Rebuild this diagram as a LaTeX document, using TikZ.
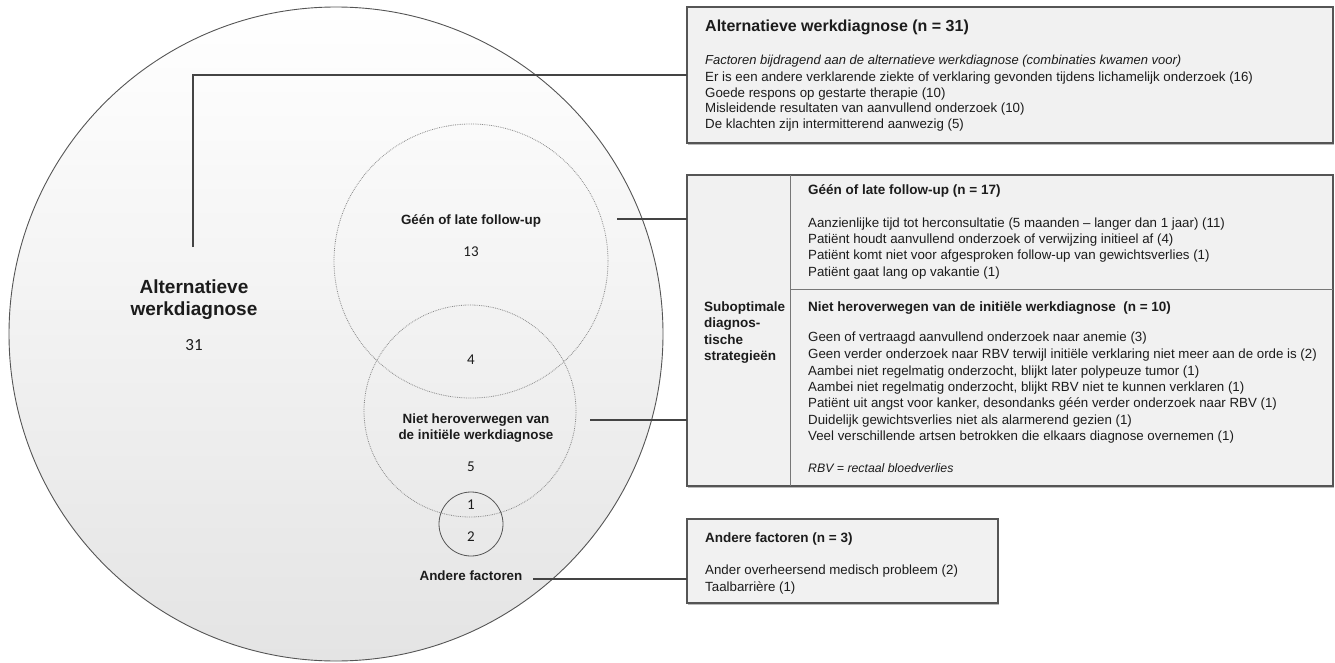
\documentclass[tikz,border=0pt]{standalone}
\usepackage{fontspec}
\setmainfont{Liberation Sans}
\newfontfamily\numfont{Carlito}
\usetikzlibrary{shadows}
\definecolor{txt}{HTML}{1C1C1C}
\definecolor{boxfill}{HTML}{F1F1F1}
\definecolor{boxline}{HTML}{555555}
\definecolor{conn}{HTML}{444444}
\definecolor{venn}{HTML}{8A8A8A}
\definecolor{circbot}{HTML}{E4E4E4}
\tikzset{
  bigcirc/.style={circle, draw=boxline, line width=0.9pt, top color=white, bottom color=circbot, inner sep=0pt, outer sep=0pt},
  venncirc/.style={circle, draw=venn, densely dotted, line width=0.8pt, inner sep=0pt, outer sep=0pt},
  smallcirc/.style={circle, draw=boxline, line width=0.8pt, inner sep=0pt, outer sep=0pt},
  infobox/.style={rectangle, draw=boxline, line width=1.4pt, fill=boxfill, anchor=north west, inner sep=0pt, outer sep=0pt,
    drop shadow={shadow xshift=1.2pt, shadow yshift=-1.6pt, fill=black!45, opacity=0.6}},
  divline/.style={draw=boxline!80, line width=0.8pt},
  connline/.style={draw=conn, line width=1.2pt},
  bodytxt/.style={anchor=base west, inner sep=0pt, text=txt, font=\fontsize{13.3}{16}\selectfont},
  headtxt/.style={anchor=base west, inner sep=0pt, text=txt, font=\fontsize{13.5}{16}\selectfont\bfseries},
  ctrlab/.style={anchor=base, inner sep=0pt, text=txt, font=\fontsize{13.4}{16}\selectfont\bfseries},
  numlab/.style={anchor=base, inner sep=0pt, text=txt, font=\fontsize{15}{16}\selectfont\numfont},
}
\begin{document}
\begin{tikzpicture}[x=1pt,y=-1pt]
\useasboundingbox (0,0) rectangle (1335,663);

% big circle and Venn circles
\node[bigcirc, minimum size=654pt] (big) at (336,334) {};
\node[venncirc, minimum size=274pt] (vA) at (471,261) {};
\node[venncirc, minimum size=212pt] (vB) at (470,411) {};
\node[smallcirc, minimum size=64pt] (vC) at (471,524) {};

% circle labels
\node[anchor=base, inner sep=0pt, text=txt, font=\fontsize{19}{22}\selectfont\bfseries] (altA) at (194,293) {Alternatieve};
\node[anchor=base, inner sep=0pt, text=txt, font=\fontsize{19}{22}\selectfont\bfseries] (altB) at (194,315) {werkdiagnose};
\node[anchor=base, inner sep=0pt, text=txt, font=\fontsize{17}{20}\selectfont\numfont] (n31) at (194,350) {31};
\node[ctrlab] (labA) at (471,224) {Géén of late follow-up};
\node[numlab] (n13) at (471,256) {13};
\node[numlab] (n4) at (471,364) {4};
\node[ctrlab] (labB1) at (476,423) {Niet heroverwegen van};
\node[ctrlab] (labB2) at (476,439) {de initiële werkdiagnose};
\node[numlab] (n5) at (471,471) {5};
\node[numlab] (n1) at (471,509) {1};
\node[numlab] (n2) at (471,541) {2};
\node[ctrlab] (labC) at (471,580) {Andere factoren};

% boxes
\node[infobox, minimum width=646pt, minimum height=136pt] (box1) at (687,7) {};
\node[infobox, minimum width=646pt, minimum height=311pt] (box2) at (687,175) {};
\node[infobox, minimum width=311pt, minimum height=84pt] (box3) at (687,519) {};

% box 2 dividers
\coordinate (dvtop) at (790,175);
\coordinate (dvbot) at (790,486);
\coordinate (dh) at (790,289);
\draw[divline] (dvtop) -- (dvbot);
\draw[divline] (dh) -- (dh -| box2.east);

% connectors
\coordinate (c1) at (193,247);
\coordinate (c2) at (617,219);
\coordinate (c3) at (590,420);
\coordinate (c4) at (533,579);
\draw[connline] (c1) |- (box1.west);
\draw[connline] (c2) -- (c2 -| box2.west);
\draw[connline] (c3) -- (c3 -| box2.west);
\draw[connline] (c4) -- (c4 -| box3.west);

% box 1 text
\node[anchor=base west, inner sep=0pt, text=txt, font=\fontsize{16}{18}\selectfont\bfseries] (t1) at (705,31.5) {Alternatieve werkdiagnose (n = 31)};
\node[bodytxt, font=\fontsize{13}{16}\selectfont\itshape] (t1a) at (705,65) {Factoren bijdragend aan de alternatieve werkdiagnose (combinaties kwamen voor)};
\node[bodytxt] (t1b) at (705,81.5) {Er is een andere verklarende ziekte of verklaring gevonden tijdens lichamelijk onderzoek (16)};
\node[bodytxt] (t1c) at (705,97.5) {Goede respons op gestarte therapie (10)};
\node[bodytxt] (t1d) at (705,113) {Misleidende resultaten van aanvullend onderzoek (10)};
\node[bodytxt] (t1e) at (705,129) {De klachten zijn intermitterend aanwezig (5)};

% box 2 text
\node[headtxt] (t2) at (808,194) {Géén of late follow-up (n = 17)};
\node[bodytxt] (t2a) at (808,227.5) {Aanzienlijke tijd tot herconsultatie (5 maanden – langer dan 1 jaar) (11)};
\node[bodytxt] (t2b) at (808,243.5) {Patiënt houdt aanvullend onderzoek of verwijzing initieel af (4)};
\node[bodytxt] (t2c) at (808,259.5) {Patiënt komt niet voor afgesproken follow-up van gewichtsverlies (1)};
\node[bodytxt] (t2d) at (808,276) {Patiënt gaat lang op vakantie (1)};
\node[headtxt] (t3) at (808,311) {Niet heroverwegen van de initiële werkdiagnose\ \ (n = 10)};
\node[headtxt] (s1) at (704,311) {Suboptimale};
\node[headtxt] (s2) at (704,327.5) {diagnos-};
\node[headtxt] (s3) at (704,344) {tische};
\node[headtxt] (s4) at (704,360) {strategieën};
\node[bodytxt] (t3a) at (808,341.5) {Geen of vertraagd aanvullend onderzoek naar anemie (3)};
\node[bodytxt] (t3b) at (808,358) {Geen verder onderzoek naar RBV terwijl initiële verklaring niet meer aan de orde is (2)};
\node[bodytxt] (t3c) at (808,375) {Aambei niet regelmatig onderzocht, blijkt later polypeuze tumor (1)};
\node[bodytxt] (t3d) at (808,391.5) {Aambei niet regelmatig onderzocht, blijkt RBV niet te kunnen verklaren (1)};
\node[bodytxt] (t3e) at (808,407.5) {Patiënt uit angst voor kanker, desondanks géén verder onderzoek naar RBV (1)};
\node[bodytxt] (t3f) at (808,424) {Duidelijk gewichtsverlies niet als alarmerend gezien (1)};
\node[bodytxt] (t3g) at (808,440) {Veel verschillende artsen betrokken die elkaars diagnose overnemen (1)};
\node[bodytxt, font=\fontsize{12.3}{16}\selectfont\itshape] (t3h) at (808,472.5) {RBV = rectaal bloedverlies};

% box 3 text
\node[headtxt] (t4) at (705,542) {Andere factoren (n = 3)};
\node[bodytxt] (t4a) at (705,574) {Ander overheersend medisch probleem (2)};
\node[bodytxt] (t4b) at (705,591) {Taalbarrière (1)};
\end{tikzpicture}
\end{document}
